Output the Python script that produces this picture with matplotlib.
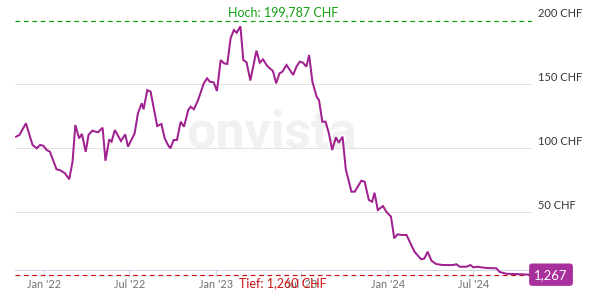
import matplotlib
matplotlib.use("Agg")
import matplotlib.pyplot as plt
import numpy as np

# Kursverlauf, CHF
dates = [
    "2021-11-02", "2021-11-09", "2021-11-23", "2021-12-07", "2021-12-16", "2021-12-23",
    "2021-12-30", "2022-01-06", "2022-01-13", "2022-01-27", "2022-02-03", "2022-02-14",
    "2022-02-23", "2022-03-02", "2022-03-08", "2022-03-16", "2022-03-22", "2022-03-30",
    "2022-04-05", "2022-04-13", "2022-04-25", "2022-05-05", "2022-05-11", "2022-05-19",
    "2022-05-24", "2022-05-31", "2022-06-13", "2022-06-22", "2022-06-28", "2022-07-12",
    "2022-07-19", "2022-07-27", "2022-07-31", "2022-08-08", "2022-08-15", "2022-08-29",
    "2022-09-07", "2022-09-14", "2022-09-21", "2022-09-26", "2022-10-03", "2022-10-10",
    "2022-10-18", "2022-10-25", "2022-11-03", "2022-11-08", "2022-11-15", "2022-11-24",
    "2022-12-06", "2022-12-13", "2022-12-19", "2022-12-27", "2023-01-03", "2023-01-11",
    "2023-01-18", "2023-01-25", "2023-02-01", "2023-02-08", "2023-02-14", "2023-02-22",
    "2023-02-28", "2023-03-07", "2023-03-15", "2023-03-28", "2023-04-04", "2023-04-11",
    "2023-04-20", "2023-05-02", "2023-05-09", "2023-05-16", "2023-05-22", "2023-05-31",
    "2023-06-14", "2023-06-21", "2023-06-28", "2023-07-05", "2023-07-12", "2023-07-18",
    "2023-07-25", "2023-08-03", "2023-08-08", "2023-08-15", "2023-08-22", "2023-08-29",
    "2023-09-05", "2023-09-13", "2023-09-19", "2023-09-27", "2023-10-04", "2023-10-16",
    "2023-10-23", "2023-11-06", "2023-11-13", "2023-11-22", "2023-11-29", "2023-12-04",
    "2023-12-11", "2023-12-22", "2023-12-29", "2024-01-08", "2024-01-15", "2024-01-22",
    "2024-01-30", "2024-02-10", "2024-02-27", "2024-03-12", "2024-03-19", "2024-03-26",
    "2024-04-03", "2024-04-13", "2024-04-27", "2024-05-19", "2024-05-26", "2024-06-02",
    "2024-06-17", "2024-06-25", "2024-07-01", "2024-07-11", "2024-07-18", "2024-07-29",
    "2024-08-19", "2024-08-26", "2024-09-09", "2024-10-08", "2024-10-31",
]
prices = [
    109.1, 110.4, 119.5, 102.6, 100.0, 102.6,
    102.0, 98.7, 97.3, 83.6, 83.0, 80.5,
    75.8, 89.5, 118.2, 107.8, 111.2, 97.3,
    110.4, 113.8, 112.5, 116.1, 90.3, 107.0,
    105.2, 114.3, 105.7, 110.9, 101.3, 111.7,
    127.3, 135.2, 130.5, 145.5, 144.2, 117.4,
    119.0, 107.8, 102.6, 100.0, 106.5, 106.5,
    120.8, 116.9, 129.9, 132.5, 130.5, 137.7,
    150.8, 154.7, 152.0, 151.6, 144.8, 169.0,
    166.4, 165.9, 185.9, 192.4, 190.3, 195.3,
    169.0, 167.2, 153.0, 176.3, 166.9, 169.5,
    164.3, 160.4, 150.8, 158.6, 159.8, 165.1,
    157.3, 163.8, 167.7, 166.9, 163.8, 172.9,
    152.0, 140.3, 137.7, 120.8, 120.8, 111.7,
    98.7, 108.6, 104.4, 109.1, 83.4, 66.1,
    66.1, 74.7, 73.9, 59.6, 58.3, 65.3,
    51.8, 54.9, 50.5, 46.6, 29.7, 32.8,
    32.3, 32.3, 19.2, 13.3, 13.9, 19.2,
    12.2, 9.6, 8.8, 8.8, 9.4, 7.5,
    7.5, 8.8, 7.0, 7.5, 7.0, 6.5,
    6.25, 3.4, 2.0, 1.6, 1.267,
]

y_ticks = [50, 100, 150, 200]
y_labels = ["50 CHF", "100 CHF", "150 CHF", "200 CHF"]
x_ticks = ["2022-01-01", "2022-07-01", "2023-01-01", "2023-07-01", "2024-01-01", "2024-07-01"]
x_labels = ["Jan '22", "Jul '22", "Jan '23", "Jul '23", "Jan '24", "Jul '24"]

high_value = 199.787
low_value = 1.260
last_value = 1.267
axis_base = 4.7

LINE = "#a0208f"
GREEN = "#12a012"
RED = "#cc1010"
GRID = "#e1e1e1"
AXIS = "#cbd5e3"
FONT = ["Lato", "DejaVu Sans"]

x = np.array(dates, dtype="datetime64[D]")

fig = plt.figure(figsize=(593 / 72, 293 / 72), dpi=72)
ax = fig.add_axes([15 / 593, 0, 517 / 593, 1])
ax.set_xlim(np.datetime64("2021-10-30T17:00"), np.datetime64("2024-11-02T19:00"))
ax.set_ylim(-13.05, 215.9)

# Wasserzeichen
ax.text(0.497, 0.495, "onvista", transform=ax.transAxes, ha="center", va="baseline",
        fontsize=52, fontweight="bold", color="#f1f1f1", family=["Roboto", "DejaVu Sans"], zorder=0)

# Gitterlinien und Beschriftung rechts
for v, lab in zip(y_ticks, y_labels):
    if v < 200:
        ax.axhline(v, color=GRID, lw=1, zorder=1)
    ax.annotate(lab, xy=(1, v), xycoords=("axes fraction", "data"),
                xytext=(6, 1), textcoords="offset points", ha="left", va="bottom",
                fontsize=11, color="#333333", family=FONT, annotation_clip=False)

# Hoch / Tief
ax.axhline(high_value, color=GREEN, lw=1.2, ls=(0, (4, 3)), zorder=2)
ax.axhline(low_value, color=RED, lw=1.2, ls=(0, (4, 3)), zorder=2)
mid = np.datetime64("2023-05-24")
ax.annotate("Hoch: 199,787 CHF", xy=(mid, high_value), xytext=(0, 2), textcoords="offset points",
            ha="center", va="bottom", fontsize=12.5, color=GREEN, family=FONT)
ax.annotate("Tief: 1,260 CHF", xy=(mid, low_value), xytext=(0, -2), textcoords="offset points",
            ha="center", va="top", fontsize=12.5, color=RED, family=FONT, annotation_clip=False,
            zorder=5)

ax.plot(x, prices, color=LINE, lw=2, solid_joinstyle="miter", zorder=3)

# x-Achse
for side in ["top", "left", "right"]:
    ax.spines[side].set_visible(False)
ax.spines["bottom"].set_position(("data", axis_base))
ax.spines["bottom"].set_color(AXIS)
ax.spines["bottom"].set_linewidth(1)
ax.set_xticks(np.array(x_ticks, dtype="datetime64[D]"))
ax.set_xticklabels(x_labels, fontsize=11, color="#707070", family=FONT)
ax.tick_params(axis="x", length=7, width=1, color=AXIS, pad=2)
ax.set_yticks([])

# Letzter Kurs
ax.annotate("1,267", xy=(1, last_value), xycoords=("axes fraction", "data"),
            xytext=(19, 0), textcoords="offset points", ha="center", va="center",
            fontsize=13, color="white", family=FONT, annotation_clip=False,
            bbox=dict(boxstyle="round,pad=0.4,rounding_size=0.25", fc="#a8309d", ec="none"))

fig.savefig("out.png", dpi=72)
